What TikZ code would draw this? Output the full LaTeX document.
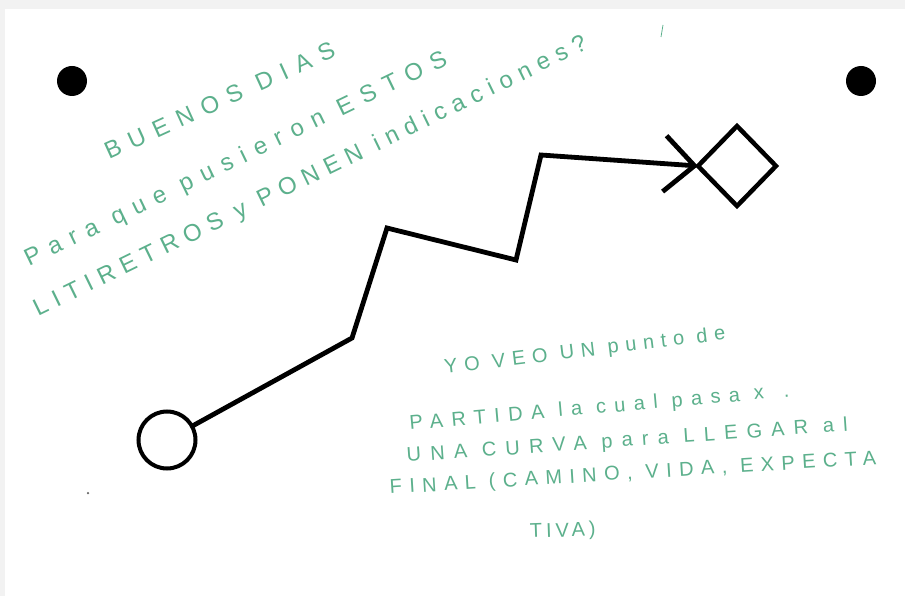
\documentclass[tikz,border=0pt]{standalone}
\usepackage{fontspec}
\setmainfont{Liberation Sans}
\usetikzlibrary{arrows.meta,shapes.geometric}
\definecolor{ink}{RGB}{92,176,140}
\definecolor{scan}{RGB}{242,242,242}
\newcommand{\lsp}[1]{\addfontfeatures{LetterSpace=#1}}
\begin{document}
\begin{tikzpicture}[x=1pt,y=-1pt,
  dot/.style={circle,fill=black,minimum size=30pt,inner sep=0pt},
  startnode/.style={circle,draw,line width=4pt,minimum size=57pt,inner sep=0pt,outer sep=0pt},
  endnode/.style={diamond,draw,line width=4.5pt,minimum width=78pt,minimum height=80pt,inner sep=0pt,outer sep=0pt},
  route/.style={line width=4.8pt,line join=miter,-{Straight Barb[length=30pt,width=56pt]}},
  hand/.style={text=ink,font=\fontsize{24}{28}\selectfont,inner sep=0pt,anchor=base west},
  handb/.style={hand,font=\fontsize{20}{24}\selectfont}]
% scan background and paper
\fill[scan] (0,0) rectangle (905,596);
\fill[white] (5,9) rectangle (905,596);
\useasboundingbox (0,0) rectangle (905,596);
% punch dots
\node[dot] (dotL) at (72,81) {};
\node[dot] (dotR) at (861,81) {};
% start and end
\node[startnode] (start) at (167,440) {};
\node[endnode] (end) at (737,166) {};
\coordinate (c1) at (352,338);
\coordinate (c2) at (387,228);
\coordinate (c3) at (516,260);
\coordinate (c4) at (541,155);
\draw[route] (start) -- (c1) -- (c2) -- (c3) -- (c4) -- (end.west);
% handwritten notes, top left
\node[hand,rotate=24.5] (t1) at (109,160) {\lsp{40}BUENOS DIAS};
\node[hand,rotate=25.8] (t2) at (29,267) {\lsp{40}Para que pusieron ESTOS};
\node[hand,rotate=26] (t3) at (38,317) {\lsp{31}LITIRETROS y PONEN indicaciones?};
% handwritten notes, bottom right
\node[handb,rotate=7] (u1) at (445,374) {\lsp{34}YO VEO UN punto de};
\node[handb,rotate=5] (u2) at (410,430) {\lsp{42}PARTIDA la cual pasa x\quad .};
\node[handb,rotate=4] (u3) at (407,462) {\lsp{46}UNA CURVA para LLEGAR al};
\node[handb,rotate=3.5] (u4) at (390,494) {\lsp{37}FINAL (CAMINO, VIDA, EXPECTA};
\node[handb,rotate=2] (u5) at (530,538) {\lsp{20}TIVA)};
% stray marks
\coordinate (m1) at (663,25);
\coordinate (m2) at (661,37);
\draw[ink,line width=0.8pt] (m1) -- (m2);
\node[circle,fill=black!60,inner sep=0pt,minimum size=2.5pt] (speck) at (88,493) {};
\end{tikzpicture}
\end{document}
